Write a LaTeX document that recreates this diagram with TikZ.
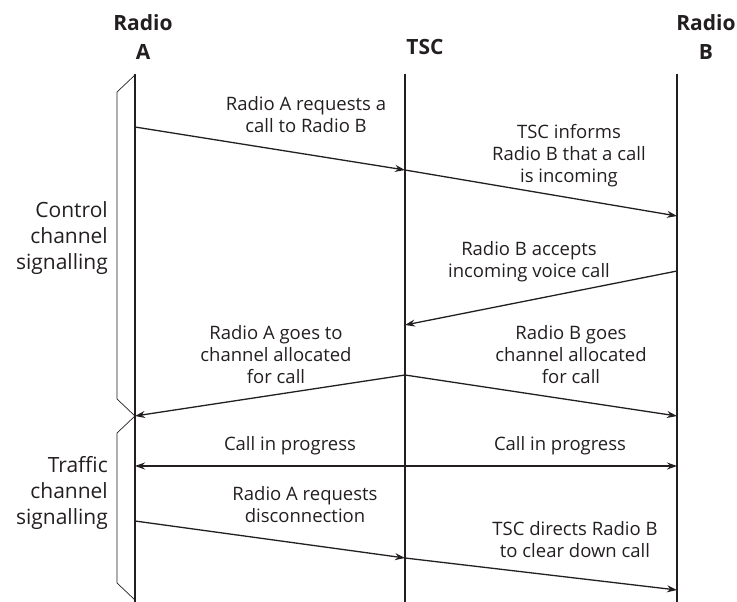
\documentclass[tikz,border=0pt]{standalone}
\usepackage{fontspec}
\setmainfont{Open Sans}
\usepackage{xcolor}
\usetikzlibrary{arrows.meta}
\definecolor{ink}{HTML}{231F20}

\begin{document}
\begin{tikzpicture}[
    x=1pt,y=-1pt,
    life/.style={draw=ink,line width=1.4pt},
    msg/.style={-{Stealth[length=10pt,width=7pt]},line width=1.3pt,color=ink},
    both/.style={{Stealth[length=10pt,width=7pt]}-{Stealth[length=10pt,width=7pt]},line width=1.3pt,color=ink},
    lbl/.style={align=center,inner sep=0pt,text=ink,font=\fontsize{18.5}{22}\selectfont},
    head/.style={align=center,inner sep=0pt,text=ink,font=\bfseries\fontsize{21}{29}\selectfont},
    side/.style={align=right,anchor=east,inner sep=0pt,text=ink,font=\fontsize{21}{26}\selectfont},
    brace/.style={draw=ink,line width=0.7pt}
  ]
    \useasboundingbox (0,0) rectangle (737,602);
    \node[head] (hA) at (143,37) {Radio\\A};
    \node[head] (hT) at (425,47) {TSC};
    \node[head] (hB) at (706,37) {Radio\\B};
    \coordinate (Atop) at (135,74);
    \coordinate (Ttop) at (405,74);
    \coordinate (Btop) at (677,74);
    \coordinate (Abot) at (135,602);
    \coordinate (Tbot) at (405,602);
    \coordinate (Bbot) at (677,602);
    \draw[life] (Atop) -- (Abot);
    \draw[life] (Ttop) -- (Tbot);
    \draw[life] (Btop) -- (Bbot);
    \coordinate (a1) at (135,127);
    \coordinate (t1) at (405,170);
    \coordinate (b2) at (677,216);
    \coordinate (b3) at (677,271);
    \coordinate (t3) at (405,325);
    \coordinate (t4) at (405,375);
    \coordinate (a4) at (135,416);
    \coordinate (b4) at (677,416);
    \coordinate (a5) at (135,466);
    \coordinate (b5) at (677,466);
    \coordinate (a6) at (135,521);
    \coordinate (t6) at (405,558);
    \coordinate (b7) at (677,590);
    \draw[msg] (a1) -- (t1);
    \draw[msg] (t1) -- (b2);
    \draw[msg] (b3) -- (t3);
    \draw[msg] (t4) -- (a4);
    \draw[msg] (t4) -- (b4);
    \draw[both] (a5) -- (b5);
    \draw[msg] (a6) -- (t6);
    \draw[msg] (t6) -- (b7);
    \node[lbl] (req) at (306,115) {Radio A requests a\\call to Radio B};
    \node[lbl] (inform) at (569,156) {TSC informs\\Radio B that a call\\is incoming};
    \node[lbl] (accept) at (529,262) {Radio B accepts\\incoming voice call};
    \node[lbl] (goA) at (276,355) {Radio A goes to\\channel allocated\\for call};
    \node[lbl] (goB) at (571,355) {Radio B goes\\channel allocated\\for call};
    \node[lbl] (progA) at (290,446) {Call in progress};
    \node[lbl] (progB) at (560,446) {Call in progress};
    \node[lbl] (disc) at (305,505) {Radio A requests\\disconnection};
    \node[lbl] (clear) at (575,540) {TSC directs Radio B\\to clear down call};
    \draw[brace] (135,75) -- (117,92) -- (117,399) -- (a4) -- (117,433) -- (117,583) -- (135,600);
    \node[side] (ctrl) at (108,238) {Control\\channel\\signalling};
    \node[side] (traf) at (108,493) {Traffic\\channel\\signalling};
  \end{tikzpicture}
\end{document}
